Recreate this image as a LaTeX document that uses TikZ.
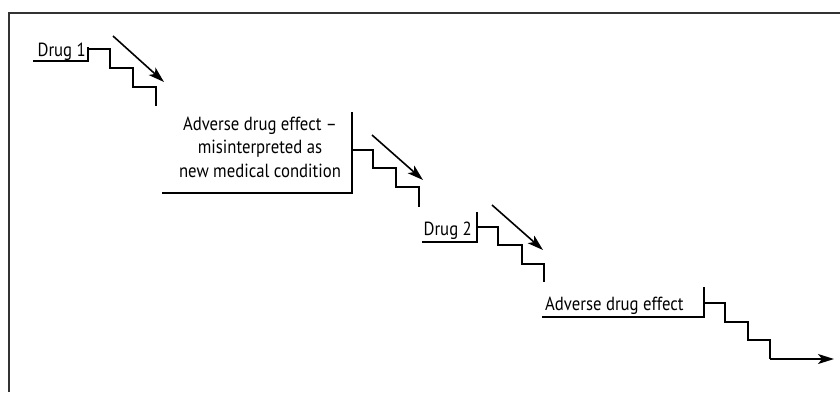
\documentclass[tikz,border=0pt]{standalone}
\usepackage{fontspec}
\setmainfont{PT Sans}[FakeStretch=0.88]
\usetikzlibrary{arrows.meta,positioning}

\begin{document}
\begin{tikzpicture}[x=1pt,y=-1pt,
        frame/.style={line width=2pt,black!80},
        stair/.style={line width=1.6pt,line join=miter},
        trend/.style={line width=1.6pt,-{Stealth[length=16pt,width=10pt,inset=4pt]}},
        lbl/.style={inner sep=0pt,font=\fontsize{19}{23.3}\selectfont}]
    \useasboundingbox (0,0) rectangle (840,392);
    \draw[frame] (9,392) -- (9,13) -- (840,13);

    % first drug
    \node[lbl,anchor=base east] (drug1) at (86,56) {Drug 1};
    \coordinate (u1) at (33,61);
    \coordinate (c1) at (88,61);
    \draw[stair] (u1) -- (c1) -- ++(0,-14);
    \draw[stair] (88,49) -- ++(22,0) -- ++(0,19) -- ++(23,0) -- ++(0,19) -- ++(23,0) -- ++(0,19);
    \coordinate (a1) at (113,36);
    \coordinate (b1) at (164,82);
    \draw[trend] (a1) -- (b1);

    % adverse effect read as a new condition
    \node[lbl,align=center,anchor=base] (effect1) at (260,177) {Adverse drug effect --\\misinterpreted as\\new medical condition};
    \coordinate (u2) at (162,193);
    \coordinate (c2) at (352,193);
    \draw[stair] (u2) -- (c2) -- (352,112);
    \draw[stair] (352,150) -- ++(21,0) -- ++(0,18) -- ++(23,0) -- ++(0,19) -- ++(23,0) -- ++(0,20);
    \coordinate (a2) at (372,135);
    \coordinate (b2) at (423,180);
    \draw[trend] (a2) -- (b2);

    % second drug
    \node[lbl,anchor=base east] (drug2) at (472,235) {Drug 2};
    \coordinate (u3) at (422,242);
    \coordinate (c3) at (477,242);
    \draw[stair] (u3) -- (c3) -- ++(0,-30);
    \draw[stair] (477,227) -- ++(21,0) -- ++(0,18) -- ++(24,0) -- ++(0,19) -- ++(22,0) -- ++(0,18);
    \coordinate (a3) at (492,205);
    \coordinate (b3) at (543,250);
    \draw[trend] (a3) -- (b3);

    % final effect
    \node[lbl,anchor=base west] (effect2) at (545,310) {Adverse drug effect};
    \coordinate (u4) at (542,317);
    \coordinate (c4) at (704,317);
    \draw[stair] (u4) -- (c4) -- ++(0,-30);
    \coordinate (e4) at (834,359);
    \draw[stair] (704,303) -- ++(21,0) -- ++(0,19) -- ++(23,0) -- ++(0,18) -- ++(22,0) -- ++(0,19) coordinate (d4);
    \draw[trend] (d4) -- (e4);
\end{tikzpicture}
\end{document}
